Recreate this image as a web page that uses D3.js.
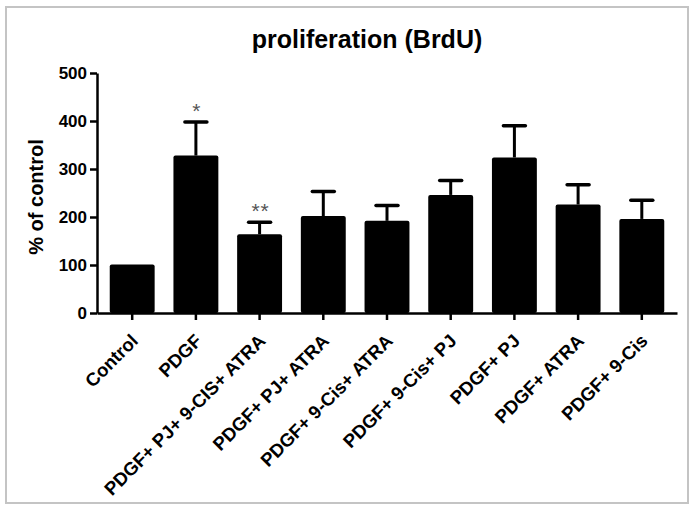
<!DOCTYPE html>
<html><head><meta charset="utf-8">
<script src="https://cdn.jsdelivr.net/npm/d3@7"></script>
<style>body{margin:0;background:#fff}</style>
</head><body>
<svg id="c" width="695" height="511"></svg>
<script>
const categories = ["Control","PDGF","PDGF+ PJ+ 9-CIS+ ATRA","PDGF+ PJ+ ATRA","PDGF+ 9-Cis+ ATRA","PDGF+ 9-Cis+ PJ","PDGF+ PJ","PDGF+ ATRA","PDGF+ 9-Cis"];
const means = [101, 328, 164, 202, 192, 246, 324, 226, 196];
const errors = [0, 70, 25, 51, 32, 30, 66, 41, 39];
const marks = ["", "*", "**", "", "", "", "", "", ""];
const yTicks = [0, 100, 200, 300, 400, 500];

const FONT = "Liberation Sans, Arial, sans-serif";
const svg = d3.select("#c");
svg.append("rect").attr("x",6).attr("y",7).attr("width",682).attr("height",496)
  .attr("fill","none").attr("stroke","#c4c4c4").attr("stroke-width",2);

const x = d3.scaleBand().domain(categories).range([97, 677]).paddingInner(0.295).paddingOuter(0.2);
const y = d3.scaleLinear().domain([0, 500]).range([313, 73]);

svg.append("text").attr("x",367).attr("y",48).attr("text-anchor","middle")
  .attr("font-family",FONT).attr("font-weight","bold")
  .attr("font-size",25).text("proliferation (BrdU)");

const g = svg.append("g");
g.selectAll("rect.bar").data(categories).join("rect").attr("class","bar")
  .attr("x", d => x(d)).attr("width", x.bandwidth())
  .attr("y", (d,i) => y(means[i])).attr("height", (d,i) => y(0) - y(means[i]))
  .attr("rx",2).attr("fill","#000");

const eb = g.selectAll("g.eb").data(categories.map((c,i)=>({c,i})).filter(d=>errors[d.i]>0)).join("g");
eb.append("line").attr("x1", d=>x(d.c)+x.bandwidth()/2).attr("x2", d=>x(d.c)+x.bandwidth()/2)
  .attr("y1", d=>y(means[d.i])).attr("y2", d=>y(means[d.i]+errors[d.i]))
  .attr("stroke","#000").attr("stroke-width",3);
eb.append("line").attr("x1", d=>x(d.c)+x.bandwidth()/2-11).attr("x2", d=>x(d.c)+x.bandwidth()/2+11)
  .attr("y1", d=>y(means[d.i]+errors[d.i])).attr("y2", d=>y(means[d.i]+errors[d.i]))
  .attr("stroke","#000").attr("stroke-width",3.5).attr("stroke-linecap","round");

g.selectAll("text.mark").data(categories.map((c,i)=>({c,i})).filter(d=>marks[d.i])).join("text")
  .attr("x", d=>x(d.c)+x.bandwidth()/2+1).attr("y", d=>y(means[d.i]+errors[d.i])-4)
  .attr("text-anchor","middle").attr("font-family",FONT)
  .attr("font-size",21).attr("fill","#555").attr("letter-spacing",1).text(d=>marks[d.i]);

// y axis
const ya = svg.append("g").attr("transform","translate(97,0)")
  .call(d3.axisLeft(y).tickValues(yTicks).tickSize(7).tickSizeOuter(0).tickPadding(3));
ya.select(".domain").attr("stroke-width",2.5);
ya.selectAll(".tick line").attr("stroke-width",2.5);
ya.selectAll(".tick text").attr("font-family",FONT)
  .attr("font-weight","bold").attr("font-size",17).attr("fill","#000");

// x axis
const xa = svg.append("g").attr("transform","translate(0,313)")
  .call(d3.axisBottom(x).tickSize(7).tickSizeOuter(0).tickPadding(4));
xa.select(".domain").attr("stroke-width",2.5);
xa.selectAll(".tick line").attr("stroke-width",2.5);
xa.selectAll(".tick text").attr("font-family",FONT)
  .attr("font-weight","bold").attr("font-size",18.5).attr("fill","#000")
  .attr("text-anchor","end").attr("dy",null).attr("y",0)
  .attr("transform","translate(7,29) rotate(-45)");

svg.append("text").attr("transform","translate(43,197) rotate(-90)").attr("text-anchor","middle")
  .attr("font-family",FONT).attr("font-weight","bold")
  .attr("font-size",20).text("%  of control");
</script>
</body></html>
